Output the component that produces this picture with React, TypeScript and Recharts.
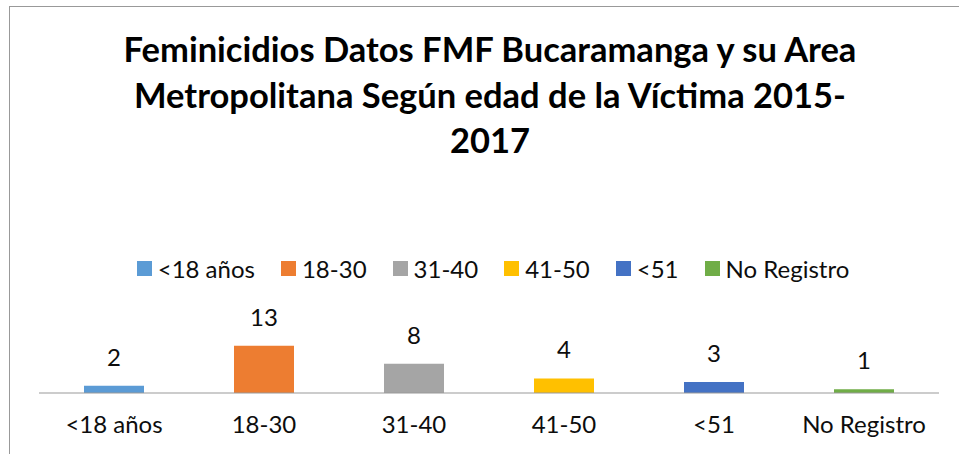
import React from 'react';
import { BarChart, Bar, XAxis, YAxis, Cell, LabelList, Legend } from 'recharts';

const categories = ['<18 años', '18-30', '31-40', '41-50', '<51', 'No Registro'];
const values = [2, 13, 8, 4, 3, 1];
const colors = ['#5B9BD5', '#ED7D31', '#A5A5A5', '#FFC000', '#4472C4', '#70AD47'];
const titleLines = [
  'Feminicidios Datos FMF Bucaramanga y su Area',
  'Metropolitana Según edad de la Víctima 2015-',
  '2017',
];

const data = categories.map((c, i) => ({ name: c, value: values[i] }));

const FONT = 'Lato, "Open Sans", sans-serif';
const TEXT = '#0d0d0d';

const LegendContent = () => (
  <div
    style={{
      display: 'flex',
      justifyContent: 'center',
      alignItems: 'center',
      fontFamily: FONT,
      fontSize: 24,
      color: TEXT,
      whiteSpace: 'nowrap',
    }}
  >
    {categories.map((c, i) => (
      <div key={c} style={{ display: 'flex', alignItems: 'center', marginLeft: i === 0 ? 0 : 26 }}>
        <span style={{ display: 'inline-block', width: 15, height: 15, background: colors[i], marginRight: 6 }} />
        <span>{c}</span>
      </div>
    ))}
  </div>
);

export default function App() {
  return (
    <div style={{ position: 'absolute', left: 0, top: 0, width: 959, height: 454, background: '#fff', overflow: 'hidden' }}>
      <div style={{ position: 'absolute', left: 9, top: 6, width: 1000, height: 500, borderLeft: '1px solid #999', borderTop: '1px solid #999' }} />
      <div
        style={{
          position: 'absolute',
          left: 0,
          top: 26,
          width: 980,
          textAlign: 'center',
          fontFamily: FONT,
          fontWeight: 700,
          fontSize: 34.5,
          lineHeight: '45.7px',
          color: '#000',
        }}
      >
        {titleLines.map((l) => (
          <div key={l}>{l}</div>
        ))}
      </div>
      <div style={{ position: 'absolute', left: 0, top: 0 }}>
        <BarChart width={959} height={454} data={data} margin={{ top: 342, right: 20, bottom: 21, left: 39 }} barCategoryGap="30%">
          <XAxis
            dataKey="name"
            height={40}
            tickLine={false}
            tickSize={0}
            tickMargin={23}
            axisLine={{ stroke: '#999', strokeWidth: 1 }}
            tick={{ fill: TEXT, fontSize: 24, fontFamily: FONT }}
            interval={0}
          />
          <YAxis hide domain={[0, 14]} />
          <Legend
            layout="horizontal"
            verticalAlign="middle"
            align="center"
            wrapperStyle={{ position: 'absolute', left: 28, top: 254, width: 930 }}
            content={<LegendContent />}
          />
          <Bar dataKey="value" isAnimationActive={false}>
            {data.map((d, i) => (
              <Cell key={d.name} fill={colors[i]} />
            ))}
            <LabelList dataKey="value" position="top" offset={20} fill={TEXT} fontSize={24} fontFamily={FONT} />
          </Bar>
        </BarChart>
      </div>
    </div>
  );
}
